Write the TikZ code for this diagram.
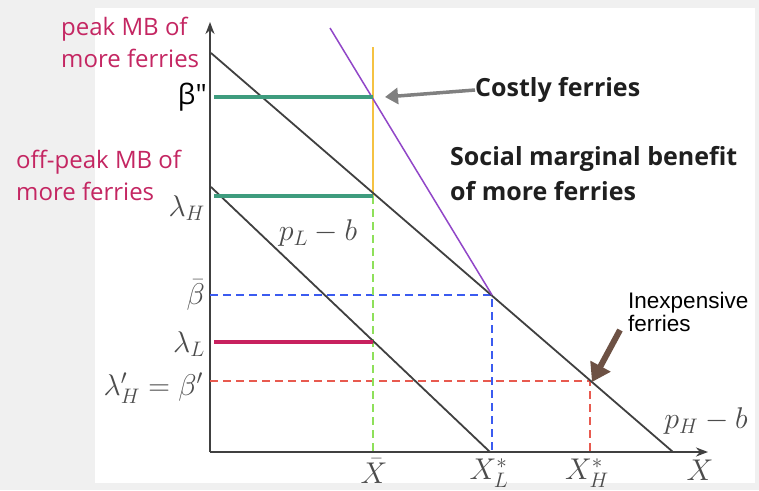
\RequirePackage{fix-cm}
\documentclass[tikz,border=0pt]{standalone}
\usepackage{fontspec}
\usepackage{amsmath}
\setsansfont{Open Sans}
\newfontfamily\arialfont{Liberation Sans}
\usetikzlibrary{arrows.meta}
\definecolor{PinkLab}{RGB}{196,38,98}
\definecolor{BarGreen}{RGB}{62,156,126}
\definecolor{BarRed}{RGB}{200,33,95}
\definecolor{SmbPurple}{RGB}{145,70,200}
\definecolor{CostOrange}{RGB}{245,194,66}
\definecolor{GuideGreen}{RGB}{142,224,90}
\definecolor{GuideBlue}{RGB}{59,91,240}
\definecolor{GuideRed}{RGB}{232,90,79}
\definecolor{ArrowBrown}{RGB}{109,81,68}

\begin{document}
\begin{tikzpicture}[
  x=1pt, y=-1pt,
  >=Stealth,
  axis/.style={draw=black!75, line width=2pt},
  demand/.style={draw=black!75, line width=1.8pt},
  mbbar/.style={line width=4.5pt},
  guide/.style={line width=1.5pt, dash pattern=on 8pt off 5pt},
  mathlab/.style={text=black!70, font=\fontsize{30}{32}\selectfont, inner sep=1pt},
  pinklab/.style={text=PinkLab, font=\sffamily\fontsize{24}{32}\selectfont, align=left, inner sep=0pt},
  boldlab/.style={text=black!88, font=\sffamily\bfseries\fontsize{25}{35}\selectfont, align=left, inner sep=0pt},
]
% frame of the slide
\fill[black!6] (0,0) rectangle (759,490);
\fill[white] (95,8) rectangle (755,483);
\useasboundingbox (0,0) rectangle (759,490);

% points of the diagram
\coordinate (O) at (210,452);
\coordinate (ytop) at (210,22);
\coordinate (xend) at (708,452);
\coordinate (HA) at (211,53);
\coordinate (HB) at (673,452);
\coordinate (LA) at (211,187);
\coordinate (LB) at (490,452);
\coordinate (PA) at (330,28);
\coordinate (K) at (492,295);
\coordinate (XH) at (590,381);

% axes
\draw[axis, ->] (O) -- (ytop);
\draw[axis, ->] (O) -- (xend);

% guides
\draw[guide, GuideBlue] (210,295) -- (K) -- (492,452);
\draw[guide, GuideRed] (210,381) -- (XH) -- (590,452);
\draw[guide, GuideGreen] (373,196) -- (373,452);
\draw[line width=1.5pt, CostOrange] (373,47) -- (373,196);

% demand lines
\draw[demand] (HA) -- (HB);
\draw[demand] (LA) -- (LB);
\draw[line width=1.5pt, SmbPurple] (PA) -- (K);

% marginal benefit bars
\draw[mbbar, BarGreen] (214,97) -- (373,97);
\draw[mbbar, BarGreen] (214,196) -- (373,196);
\draw[mbbar, BarRed] (214,342) -- (373,342);

% axis labels
\node[mathlab, text=black, font=\sffamily\fontsize{28}{30}\selectfont, anchor=east] (lbeta2) at (208,97) {β\textquotedbl};
\node[mathlab, anchor=east] (llamH) at (206,208) {$\lambda_H$};
\node[mathlab, anchor=east] (lbetabar) at (206,295) {$\bar{\beta}$};
\node[mathlab, anchor=east] (llamL) at (206,344) {$\lambda_L$};
\node[mathlab, anchor=east] (llamHp) at (204,388) {$\lambda'_H=\beta'$};
\node[mathlab] (lXbar) at (374,471) {$\bar{X}$};
\node[mathlab] (lXL) at (489,473) {$X^*_L$};
\node[mathlab] (lXH) at (587,473) {$X^*_H$};
\node[mathlab] (lX) at (700,470) {$X$};
\node[mathlab] (lpL) at (318,233) {$p_L-b$};
\node[mathlab] (lpH) at (706,421) {$p_H-b$};

% texts
\node[pinklab, anchor=north west] (peak) at (61,17) {peak MB of\\more ferries};
\node[pinklab, anchor=north west] (offpeak) at (16,150) {off-peak MB of\\more ferries};
\node[boldlab, anchor=west] (costly) at (475,90) {Costly ferries};
\node[boldlab, anchor=north west] (smb) at (450,146) {Social marginal benefit\\of more ferries};
\node[font=\arialfont\fontsize{22.5}{23}\selectfont, align=left, inner sep=0pt, anchor=north west] (cheap) at (628,292) {Inexpensive\\ferries};

% pointers
\coordinate (costtip) at (385,97);
\coordinate (cheaptip) at (592,382);
\draw[line width=3.5pt, black!50, -{Triangle[length=13pt,width=16pt]}] (costly.west) -- (costtip);
\draw[line width=6pt, ArrowBrown, -{Triangle[length=18pt,width=22pt]}] (620,330) -- (cheaptip);
\end{tikzpicture}
\end{document}
